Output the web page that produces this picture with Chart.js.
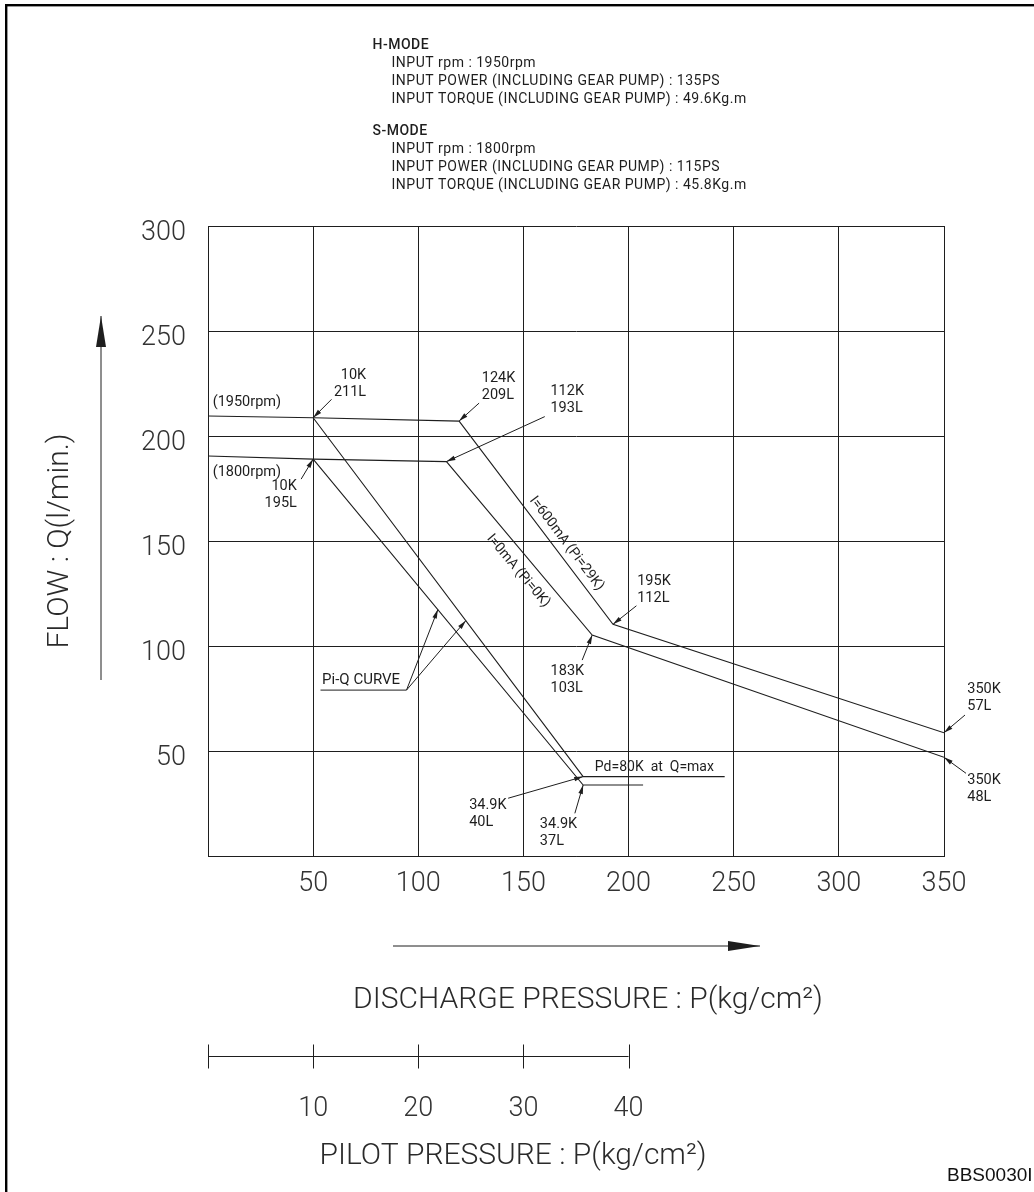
<!DOCTYPE html>
<html>
<head>
<meta charset="utf-8">
<script src="https://cdn.jsdelivr.net/npm/chart.js@4.4.1/dist/chart.umd.min.js"></script>
<style>
html,body{margin:0;padding:0;background:#fff;}
#wrap{width:1034px;height:1192px;position:relative;overflow:hidden;}
canvas{display:block;}
</style>
</head>
<body>
<div id="wrap"><canvas id="c" width="1034" height="1192"></canvas></div>
<script>
// ---------- DATA ----------
const xTickLabels = [50, 100, 150, 200, 250, 300, 350];
const yTickLabels = [50, 100, 150, 200, 250, 300];
const pilotTickLabels = [10, 20, 30, 40];

// H-MODE (1950rpm) P-Q curve, I=600mA (Pi=29K)
const hModeX = [0, 50, 119.4, 192.6, 350];
const hModeY = [209.5, 208.7, 207.1, 110.3, 58.7];
// S-MODE (1800rpm) P-Q curve, I=0mA (Pi=0K)
const sModeX = [0, 50, 113.4, 182.7, 350];
const sModeY = [190.5, 189.0, 187.8, 105.2, 47.0];
// Pi-Q curves (plotted on discharge axis; pilot 10K..34.9K)
const piqHX = [50, 178.4, 245.7];
const piqHY = [208.7, 37.8, 37.8];
const piqSX = [50, 178.4, 206.9];
const piqSY = [189.0, 33.8, 33.8];

const headerH = ['INPUT rpm : 1950rpm', 'INPUT POWER (INCLUDING GEAR PUMP) : 135PS', 'INPUT TORQUE (INCLUDING GEAR PUMP) : 49.6Kg.m'];
const headerS = ['INPUT rpm : 1800rpm', 'INPUT POWER (INCLUDING GEAR PUMP) : 115PS', 'INPUT TORQUE (INCLUDING GEAR PUMP) : 45.8Kg.m'];

// ---------- helpers ----------
const pts = (xs, ys) => xs.map((x, i) => ({x: x, y: ys[i]}));
const FONT = 'Roboto, "Liberation Sans", sans-serif';
const INK = '#1e1e1e';

function arrowTo(ctx, x1, y1, x2, y2, len, half) {
  ctx.beginPath(); ctx.moveTo(x1, y1); ctx.lineTo(x2, y2); ctx.stroke();
  const a = Math.atan2(y2 - y1, x2 - x1);
  const bx = x2 - len * Math.cos(a), by = y2 - len * Math.sin(a);
  ctx.beginPath();
  ctx.moveTo(x2, y2);
  ctx.lineTo(bx + half * Math.sin(a), by - half * Math.cos(a));
  ctx.lineTo(bx - half * Math.sin(a), by + half * Math.cos(a));
  ctx.closePath(); ctx.fill();
}
function interpY(xs, ys, x) {
  for (let i = 0; i < xs.length - 1; i++) {
    if (x >= xs[i] && x <= xs[i + 1]) {
      const t = (x - xs[i]) / (xs[i + 1] - xs[i]);
      return ys[i] + t * (ys[i + 1] - ys[i]);
    }
  }
  return ys[ys.length - 1];
}
function spacing(ctx, v) { if ('letterSpacing' in ctx) ctx.letterSpacing = v; }

const seriesXY = [[hModeX, hModeY], [sModeX, sModeY], [piqHX, piqHY], [piqSX, piqSY]];

const cadPlugin = {
  id: 'cad',
  beforeDraw(chart) {
    const c = chart.ctx; c.save(); c.fillStyle = '#fff'; c.fillRect(0, 0, chart.width, chart.height); c.restore();
  },
  afterDraw(chart, args, o) {
    const ctx = chart.ctx, ca = chart.chartArea, xs = chart.scales.x, ys = chart.scales.y, ps = chart.scales.pilot;
    ctx.save();
    // frame
    ctx.fillStyle = '#000';
    ctx.fillRect(5, 4, 2.4, chart.height);
    ctx.fillRect(5, 4, chart.width, 2.4);

    ctx.strokeStyle = INK; ctx.fillStyle = INK; ctx.lineWidth = 1;
    ctx.textBaseline = 'middle';

    // header block
    ctx.textAlign = 'left';
    spacing(ctx, '0.5px');
    ctx.font = '500 14px ' + FONT;
    ctx.fillText('H-MODE', 372.5, 45.5);
    ctx.fillText('S-MODE', 372.5, 131.5);
    ctx.font = '400 14px ' + FONT;
    headerH.forEach((s, i) => ctx.fillText(s, 391.5, 63.5 + i * 17.8));
    headerS.forEach((s, i) => ctx.fillText(s, 391.5, 149.5 + i * 17.8));
    spacing(ctx, '0px');

    // point annotations
    o.notes.forEach(n => {
      const el = chart.getDatasetMeta(n.ds).data[n.i];
      const px = el.x, py = el.y;
      ctx.font = '400 ' + (n.size || 14.5) + 'px ' + FONT;
      ctx.textAlign = n.align;
      n.lines.forEach((s, k) => ctx.fillText(s, px + n.tx, py + n.ty + k * 17));
      if (n.ax !== undefined) arrowTo(ctx, px + n.ax, py + n.ay, px, py, 9, 2.3);
    });

    // rotated labels along segments
    o.along.forEach(a => {
      const m = chart.getDatasetMeta(a.ds).data;
      const p1 = m[a.from], p2 = m[a.to];
      const ang = Math.atan2(p2.y - p1.y, p2.x - p1.x);
      const cx = p1.x + a.t * (p2.x - p1.x), cy = p1.y + a.t * (p2.y - p1.y);
      ctx.save();
      ctx.translate(cx, cy); ctx.rotate(ang);
      ctx.font = '400 14px ' + FONT; ctx.textAlign = 'center';
      ctx.fillText(a.text, 0, a.off);
      ctx.restore();
    });

    // Pi-Q CURVE callout
    const q = o.piq;
    const ux1 = xs.getPixelForValue(q.x1), ux2 = xs.getPixelForValue(q.x2), uy = ys.getPixelForValue(q.y);
    ctx.font = '400 15px ' + FONT; ctx.textAlign = 'left';
    ctx.fillText(q.text, ux1 + 1.6, uy - 10.3);
    ctx.beginPath(); ctx.moveTo(ux1, uy); ctx.lineTo(ux2, uy); ctx.stroke();
    q.targets.forEach(t => {
      const [sx, sy] = seriesXY[t.ds];
      const tx = xs.getPixelForValue(t.x), ty = ys.getPixelForValue(interpY(sx, sy, t.x));
      arrowTo(ctx, ux2, uy, tx, ty, 9, 2.3);
    });

    // axis direction arrows
    const ax = ca.left - 107;
    arrowTo(ctx, ax, ca.bottom - 176, ax, ca.top + 90, 31, 5);
    const ay = ca.bottom + 90;
    arrowTo(ctx, ca.left + 185, ay, ca.left + 552, ay, 32, 5);

    // axis titles
    ctx.fillStyle = '#2a2a2a';
    ctx.font = '300 30px ' + FONT; ctx.textAlign = 'center';
    ctx.save();
    ctx.translate(ca.left - 148, (ca.top + ca.bottom) / 2);
    ctx.rotate(-Math.PI / 2);
    ctx.fillText(o.titles.y, 0, 0);
    ctx.restore();
    ctx.fillText(o.titles.x, ca.left + 380, ca.bottom + 144);
    ctx.fillText(o.titles.pilot, ca.left + 305, ps.top + 100);

    // pilot pressure scale bar
    ctx.strokeStyle = INK; ctx.fillStyle = INK;
    const p0 = ps.getPixelForValue(0), p40 = ps.getPixelForValue(40), py0 = Math.round(ps.top) + 0.5;
    ctx.beginPath(); ctx.moveTo(p0, py0); ctx.lineTo(p40, py0); ctx.stroke();
    [0, 10, 20, 30, 40].forEach(v => {
      const xx = Math.round(ps.getPixelForValue(v)) + 0.5;
      ctx.beginPath(); ctx.moveTo(xx, py0 - 12); ctx.lineTo(xx, py0 + 12); ctx.stroke();
    });

    // drawing code
    ctx.fillStyle = '#111';
    ctx.font = '19px "Liberation Sans", Arial, sans-serif'; ctx.textAlign = 'left';
    ctx.fillText('BBS0030I', 947, 1176);
    ctx.restore();
  }
};

const lineDs = (label, data) => ({
  label: label, data: data, showLine: true, borderColor: INK, borderWidth: 1.1,
  pointRadius: 0, pointHoverRadius: 0, tension: 0, fill: false
});

const tickFont = {family: FONT, size: 27, weight: '300'};

new Chart(document.getElementById('c'), {
  type: 'scatter',
  data: {
    datasets: [
      lineDs('H-MODE 1950rpm', pts(hModeX, hModeY)),
      lineDs('S-MODE 1800rpm', pts(sModeX, sModeY)),
      lineDs('Pi-Q H', pts(piqHX, piqHY)),
      lineDs('Pi-Q S', pts(piqSX, piqSY))
    ]
  },
  options: {
    responsive: false,
    devicePixelRatio: 1,
    animation: false,
    events: [],
    layout: {padding: {left: 40, top: 226, right: 90, bottom: 0}},
    plugins: {
      legend: {display: false},
      tooltip: {enabled: false},
      cad: {
        notes: [
          {lines: ['10K', '211L'], ds: 0, i: 1, align: 'right', tx: 53, ty: -42.5, ax: 18.4, ay: -18.4},
          {lines: ['124K', '209L'], ds: 0, i: 2, align: 'left', tx: 22.7, ty: -43.2, ax: 20, ay: -18},
          {lines: ['112K', '193L'], ds: 1, i: 2, align: 'left', tx: 104, ty: -70, ax: 98.3, ay: -45},
          {lines: ['10K', '195L'], ds: 1, i: 1, align: 'right', tx: -16.3, ty: 27, ax: -12, ay: 20},
          {lines: ['195K', '112L'], ds: 0, i: 3, align: 'left', tx: 24.2, ty: -43.3, ax: 23.4, ay: -18.6},
          {lines: ['183K', '103L'], ds: 1, i: 3, align: 'left', tx: -41.6, ty: 35.8, ax: -10, ay: 25},
          {lines: ['34.9K', '40L'], ds: 2, i: 1, align: 'left', tx: -114, ty: 28.3, ax: -75, ay: 21.6},
          {lines: ['34.9K', '37L'], ds: 3, i: 1, align: 'left', tx: -43.3, ty: 39.3, ax: -8.3, ay: 28.3},
          {lines: ['350K', '57L'], ds: 0, i: 4, align: 'left', tx: 23.3, ty: -43, ax: 21, ay: -17.7},
          {lines: ['350K', '48L'], ds: 1, i: 4, align: 'left', tx: 23.3, ty: 22.7, ax: 22, ay: 16},
          {lines: ['(1950rpm)'], ds: 0, i: 0, align: 'left', tx: 4.7, ty: -13.5},
          {lines: ['(1800rpm)'], ds: 1, i: 0, align: 'left', tx: 4.7, ty: 16},
          {lines: ['Pd=80K  at  Q=max'], ds: 2, i: 1, align: 'left', tx: 11.7, ty: -9.2, size: 14}
        ],
        along: [
          {text: 'I=600mA (Pi=29K)', ds: 0, from: 2, to: 3, t: 0.637, off: -11.7},
          {text: 'I=0mA (Pi=0K)', ds: 1, from: 2, to: 3, t: 0.573, off: 15.4}
        ],
        piq: {text: 'Pi-Q CURVE', x1: 53.5, x2: 94.4, y: 79.0, targets: [{ds: 3, x: 109.3}, {ds: 2, x: 122.6}]},
        titles: {
          y: 'FLOW : Q(l/min.)',
          x: 'DISCHARGE PRESSURE : P(kg/cm²)',
          pilot: 'PILOT PRESSURE : P(kg/cm²)'
        }
      }
    },
    scales: {
      x: {
        type: 'linear', position: 'bottom', weight: 0, min: 0, max: 350,
        afterFit: s => { s.height = 200; },
        grid: {color: INK, lineWidth: 1, drawTicks: false},
        border: {color: INK, width: 1},
        ticks: {
          stepSize: 50, autoSkip: false, maxRotation: 0, padding: 12, color: '#333', font: tickFont,
          callback: v => xTickLabels.includes(v) ? String(v) : ''
        }
      },
      pilot: {
        type: 'linear', position: 'bottom', weight: 1, min: 0, max: 70,
        afterFit: s => { s.height = 136; },
        grid: {display: false, drawTicks: false},
        border: {display: false},
        ticks: {
          stepSize: 10, autoSkip: false, maxRotation: 0, padding: 37, color: '#333', font: tickFont,
          callback: v => pilotTickLabels.includes(v) ? String(v) : ''
        }
      },
      y: {
        type: 'linear', position: 'left', min: 0, max: 300,
        afterFit: s => { s.width = 168; },
        grid: {color: INK, lineWidth: 1, drawTicks: false},
        border: {color: INK, width: 1},
        ticks: {
          stepSize: 50, autoSkip: false, padding: 22, labelOffset: 7, color: '#333', font: tickFont,
          callback: v => yTickLabels.includes(v) ? String(v) : ''
        }
      }
    }
  },
  plugins: [cadPlugin]
});
</script>
</body>
</html>
